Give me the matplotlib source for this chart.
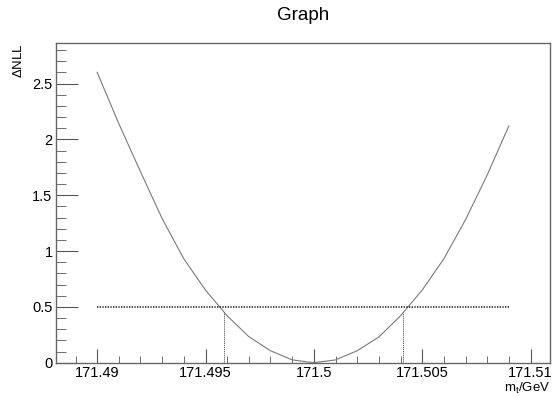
import numpy as np
import matplotlib
matplotlib.use("Agg")
import matplotlib.pyplot as plt
from matplotlib.ticker import MultipleLocator, FuncFormatter

plt.rcParams['font.family'] = ['Liberation Sans', 'DejaVu Sans']
plt.rcParams['mathtext.default'] = 'regular'

# scan points (top mass vs delta NLL)
mass = [171.490, 171.491, 171.492, 171.493, 171.494, 171.495, 171.496,
        171.497, 171.498, 171.499, 171.500, 171.501, 171.502, 171.503,
        171.504, 171.505, 171.506, 171.507, 171.508, 171.509]
dnll = [2.60, 2.14, 1.71, 1.29, 0.93, 0.65, 0.42, 0.233, 0.107, 0.025,
        0.0, 0.025, 0.107, 0.23, 0.42, 0.65, 0.93, 1.28, 1.68, 2.12]

# 0.5 line and interval edges
level = 0.5
err_lo, err_hi = 171.49587, 171.50413
err_lo_y, err_hi_y = 0.457, 0.457

fig = plt.figure(figsize=(5.52, 3.97), dpi=100)
ax = fig.add_axes([56/552, 1-362.7/397, (550-56)/552, (362.7-43.3)/397])

ax.plot(mass, dnll, color='#7a7a7a', lw=0.8)
ax.plot([mass[0], mass[-1]], [level, level], color='#222222', lw=1.2, ls=(0, (0.8, 0.8)))
ax.plot([err_lo, err_lo], [0, err_lo_y], color='#444444', lw=0.7, ls=(0, (1, 1)))
ax.plot([err_hi, err_hi], [0, err_hi_y], color='#444444', lw=0.7, ls=(0, (1, 1)))

span = mass[-1] - mass[0]
ax.set_xlim(mass[0] - 0.1*span, mass[-1] + 0.1*span)
ax.set_ylim(0, max(dnll)*1.1)

ax.xaxis.set_major_locator(MultipleLocator(0.005))
ax.xaxis.set_minor_locator(MultipleLocator(0.001))
ax.yaxis.set_major_locator(MultipleLocator(0.5))
ax.yaxis.set_minor_locator(MultipleLocator(0.1))
fmt = FuncFormatter(lambda v, p: '{:g}'.format(round(v, 6)))
ax.xaxis.set_major_formatter(fmt)
ax.yaxis.set_major_formatter(fmt)

ax.tick_params(axis='both', which='both', direction='in', color='#555555',
               labelsize=10.5, top=False, right=False)
ax.tick_params(axis='x', which='major', length=10, pad=2.5)
ax.tick_params(axis='x', which='minor', length=5)
ax.tick_params(axis='y', which='major', length=15.5, pad=2.5)
ax.tick_params(axis='y', which='minor', length=7.5)
for s in ax.spines.values():
    s.set_color('#666666')
    s.set_linewidth(1.0)

fig.text(303/552, 1-16/397, 'Graph', ha='center', va='center', fontsize=13.5)
fig.text(19/552, 1-43/397, r'$\Delta$NLL', rotation=90, ha='center', va='top', fontsize=9.5)
fig.text(550/552, 1-396/397, r'm$_{t}$/GeV', ha='right', va='bottom', fontsize=9.5)

fig.savefig('out.png', dpi=100)
